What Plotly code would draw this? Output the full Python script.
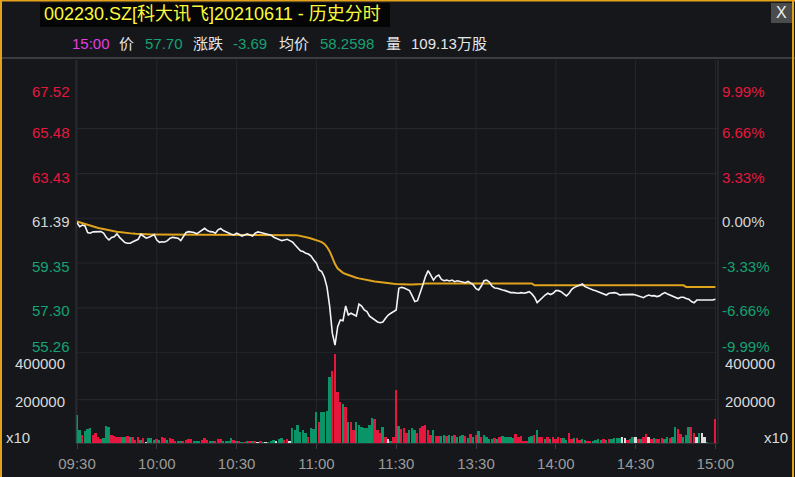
import plotly.graph_objects as go

# ---------------- data ----------------
time_tick_pos = [0, 30, 60, 90, 120, 150, 180, 210, 240]
time_tick_labels = ["09:30", "10:00", "10:30", "11:00", "11:30", "13:30", "14:00", "14:30", "15:00"]

pre_close = 61.39
price_ticks = [67.52, 65.48, 63.43, 61.39, 59.35, 57.30, 55.26]
pct_labels = ["9.99%", "6.66%", "3.33%", "0.00%", "-3.33%", "-6.66%", "-9.99%"]
vol_tick_vals = [400, 200, 0]          # thousands
vol_tick_labels = ["400000", "200000", "x10"]

price = [
    61.19, 61.01, 61.08, 61.04, 60.74, 60.71, 60.77, 60.78, 60.77, 60.78,
    60.71, 60.52, 60.40, 60.52, 60.55, 60.68, 60.52, 60.40, 60.28, 60.25,
    60.25, 60.32, 60.37, 60.43, 60.66, 60.55, 60.48, 60.52, 60.58, 60.65,
    60.40, 60.29, 60.32, 60.31, 60.37, 60.48, 60.52, 60.51, 60.48, 60.37,
    60.55, 60.74, 60.78, 60.77, 60.74, 60.68, 60.77, 60.86, 60.93, 60.83,
    60.78, 60.77, 60.71, 60.86, 60.93, 60.83, 60.77, 60.74, 60.66, 60.63,
    60.71, 60.65, 60.58, 60.63, 60.68, 60.63, 60.58, 60.71, 60.77, 60.74,
    60.71, 60.68, 60.65, 60.62, 60.52, 60.48, 60.43, 60.37, 60.40, 60.43,
    60.37, 60.31, 60.17, 60.02, 59.91, 59.87, 59.79, 59.76, 59.67, 59.49,
    59.34, 59.03, 58.96, 58.70, 58.24, 57.36, 56.14, 55.61, 56.45, 56.75,
    56.72, 57.39, 56.98, 57.06, 56.98, 56.93, 57.48, 57.39, 57.21, 57.13,
    56.93, 56.83, 56.75, 56.66, 56.63, 56.66, 56.83, 56.98, 57.06, 57.13,
    57.21, 58.20, 58.24, 58.21, 58.15, 58.09, 57.85, 57.59, 57.63, 58.04,
    58.35, 58.73, 59.00, 58.80, 58.57, 58.73, 58.80, 58.60, 58.54, 58.57,
    58.53, 58.57, 58.50, 58.54, 58.51, 58.50, 58.45, 58.51, 58.42, 58.35,
    58.18, 58.12, 58.30, 58.54, 58.57, 58.48, 58.30, 58.21, 58.20, 58.15,
    58.12, 58.09, 58.04, 58.00, 58.00, 57.97, 57.97, 58.00, 57.97, 58.00,
    58.04, 57.94, 57.79, 57.54, 57.66, 57.79, 57.89, 57.97, 57.91, 57.97,
    58.09, 58.09, 58.04, 57.94, 57.85, 57.97, 58.15, 58.24, 58.30, 58.36,
    58.39, 58.27, 58.21, 58.15, 58.12, 58.09, 58.04, 58.00, 57.94, 57.89,
    57.97, 58.00, 58.00, 57.97, 57.89, 57.91, 57.92, 57.92, 57.91, 57.92,
    57.89, 57.85, 57.82, 57.77, 57.85, 57.89, 57.85, 57.86, 57.82, 57.85,
    57.94, 58.00, 57.94, 57.89, 57.82, 57.79, 57.73, 57.79, 57.79, 57.73,
    57.70, 57.59, 57.54, 57.66, 57.66, 57.63, 57.63, 57.66, 57.66, 57.66,
    57.70,
]

avg_price = [
    61.24, 61.20, 61.16, 61.12, 61.08, 61.04, 61.01, 60.98, 60.95, 60.92,
    60.89, 60.86, 60.84, 60.82, 60.80, 60.78, 60.76, 60.74, 60.72, 60.71,
    60.70, 60.69, 60.68, 60.67, 60.67, 60.66, 60.66, 60.66, 60.65, 60.65,
    60.65, 60.65, 60.65, 60.64, 60.64, 60.64, 60.64, 60.64, 60.64, 60.64,
    60.64, 60.64, 60.64, 60.64, 60.64, 60.64, 60.64, 60.64, 60.64, 60.64,
    60.64, 60.64, 60.64, 60.64, 60.64, 60.64, 60.64, 60.64, 60.64, 60.64,
    60.64, 60.64, 60.64, 60.64, 60.64, 60.64, 60.64, 60.64, 60.64, 60.64,
    60.64, 60.64, 60.64, 60.64, 60.64, 60.64, 60.64, 60.64, 60.64, 60.64,
    60.64, 60.63, 60.62, 60.61, 60.59, 60.57, 60.53, 60.50, 60.47, 60.44,
    60.40, 60.35, 60.30, 60.22, 60.08, 59.88, 59.60, 59.30, 59.10, 58.98,
    58.90, 58.85, 58.80, 58.76, 58.72, 58.68, 58.65, 58.62, 58.59, 58.57,
    58.55, 58.53, 58.51, 58.49, 58.47, 58.45, 58.43, 58.42, 58.41, 58.40,
    58.39, 58.38, 58.38, 58.38, 58.37, 58.37, 58.37, 58.37, 58.37, 58.38,
    58.39, 58.42, 58.42, 58.42, 58.42, 58.42, 58.42, 58.42, 58.42, 58.42,
    58.42, 58.42, 58.42, 58.42, 58.42, 58.42, 58.42, 58.42, 58.42, 58.42,
    58.42, 58.42, 58.42, 58.42, 58.42, 58.42, 58.42, 58.42, 58.42, 58.42,
    58.42, 58.42, 58.42, 58.42, 58.42, 58.42, 58.42, 58.42, 58.42, 58.42,
    58.42, 58.42, 58.33, 58.33, 58.33, 58.33, 58.33, 58.33, 58.33, 58.33,
    58.33, 58.33, 58.33, 58.33, 58.33, 58.33, 58.33, 58.33, 58.33, 58.33,
    58.33, 58.33, 58.33, 58.33, 58.33, 58.33, 58.33, 58.33, 58.33, 58.33,
    58.33, 58.33, 58.33, 58.33, 58.33, 58.33, 58.33, 58.33, 58.33, 58.33,
    58.33, 58.33, 58.33, 58.33, 58.33, 58.33, 58.33, 58.33, 58.33, 58.33,
    58.33, 58.33, 58.33, 58.33, 58.33, 58.33, 58.33, 58.33, 58.33, 58.26,
    58.26, 58.26, 58.26, 58.26, 58.26, 58.26, 58.26, 58.26, 58.26, 58.26,
    58.26,
]

# volume per minute, thousands of shares (x10 units as shown)
volume_k = [
    131, 62, 38, 58, 66, 72, 38, 46, 28, 22,
    23, 80, 74, 37, 34, 31, 28, 28, 31, 34,
    28, 28, 15, 28, 15, 23, 8, 23, 23, 15,
    18, 15, 28, 23, 15, 23, 22, 12, 9, 12,
    12, 15, 18, 18, 12, 12, 12, 15, 23, 15,
    9, 12, 9, 18, 18, 12, 12, 12, 23, 15,
    12, 11, 8, 8, 12, 12, 11, 12, 8, 9,
    6, 6, 8, 9, 15, 12, 18, 23, 15, 22,
    12, 69, 62, 85, 54, 62, 46, 28, 69, 66,
    146, 100, 146, 146, 150, 308, 336, 413, 239, 192,
    180, 170, 100, 100, 62, 100, 85, 77, 70, 70,
    85, 115, 110, 62, 46, 77, 31, 20, 10, 30,
    246, 80, 65, 69, 46, 62, 72, 62, 46, 72,
    82, 85, 62, 38, 62, 34, 34, 34, 38, 34,
    38, 34, 37, 31, 34, 37, 34, 23, 42, 28,
    37, 58, 31, 38, 28, 18, 18, 25, 22, 28,
    34, 31, 31, 28, 23, 43, 28, 34, 12, 12,
    28, 34, 37, 62, 31, 28, 22, 28, 22, 28,
    22, 28, 23, 23, 15, 49, 18, 23, 23, 15,
    22, 15, 12, 12, 12, 15, 18, 15, 18, 15,
    18, 18, 23, 25, 25, 28, 25, 15, 18, 31,
    28, 22, 18, 28, 42, 28, 22, 23, 22, 22,
    25, 22, 28, 23, 31, 74, 65, 43, 31, 38,
    74, 77, 49, 28, 49, 46, 28, 8, 0, 0,
    111,
]

# bar direction: r = up, g = down, w = unchanged
volume_dir = (
    "ggrgggrrrr" "gggrrrrggr" "grrrgrwggg" "rgrrgrrrgg" "rrrrgggrrr"
    "ggrrrggggr" "grgrgrgrwr" "gwgggwggrr" "wggggggrgg" "grggggrrrr"
    "grgrrggggg" "ggrrrgrwgr" "rgrrrgggrr" "rrrrgrrggr" "ggrgggrgrg"
    "rgrggggrgr" "gggggrrrrr" "ggrgrrgrgr" "rrrggrrgrr" "ggrrggggrg"
    "rggggwwrgg" "wrgrrwrgrr" "rggrggrrgg" "grrwgwwggg"
    "r"
)

# ---------------- style ----------------
BG = "#15171b"
GRID = "#25272c"
FRAME = "#2e3035"
RED = "#e5173f"
GREEN = "#0b9468"
TGREEN = "#16a272"
WHITE = "#e6e6e6"
GREY = "#9c9c9c"
ORANGE = "#e0a31c"
FONT = "Liberation Sans, Arial, Noto Sans CJK SC, sans-serif"
CJK = "Liberation Sans, Noto Sans CJK SC, sans-serif"

W, H = 795, 477
ML, MR, MT, MB = 76, 77, 60, 34
PW = W - ML - MR
PH = H - MT - MB
price_top = 352.7                       # pixel row of the 55.26 line
dom_split = (H - MB - price_top) / PH
px_per_yuan = 21.93
price_range = [55.26, 55.26 + (price_top - MT) / px_per_yuan]
vol_range = [0, (H - MB - price_top) * 4.619]


def px(x):
    return (x - ML) / PW


def py(y):
    return (H - MB - y) / PH


col_map = {"r": RED, "g": GREEN, "w": "#dcdcdc"}
minutes = list(range(len(price)))

fig = go.Figure()
fig.add_trace(go.Bar(x=minutes, y=volume_k, marker_color=[col_map[c] for c in volume_dir],
                     marker_line_width=0, width=0.72, yaxis="y2", xaxis="x", hoverinfo="skip"))
fig.add_trace(go.Scatter(x=minutes, y=avg_price, mode="lines", line=dict(color=ORANGE, width=2),
                         yaxis="y", xaxis="x", hoverinfo="skip"))
fig.add_trace(go.Scatter(x=minutes, y=price, mode="lines", line=dict(color="#f4f4f4", width=1.6),
                         yaxis="y", xaxis="x", hoverinfo="skip"))

shapes = []
for t in time_tick_pos:
    shapes.append(dict(type="line", xref="x", yref="paper", x0=t, x1=t, y0=0, y1=1,
                       line=dict(color=GRID, width=1), layer="below"))
for v in price_ticks[1:]:
    shapes.append(dict(type="line", xref="paper", yref="y", x0=0, x1=1, y0=v, y1=v,
                       line=dict(color=GRID, width=1.2), layer="below"))
for v in vol_tick_vals[1:]:
    shapes.append(dict(type="line", xref="paper", yref="y2", x0=0, x1=1, y0=v, y1=v,
                       line=dict(color=GRID, width=1.2), layer="below"))
shapes.append(dict(type="line", xref="paper", yref="paper", x0=0, x1=0, y0=0, y1=1,
                   line=dict(color=FRAME, width=1.2)))
shapes.append(dict(type="line", xref="paper", yref="paper", x0=1, x1=1, y0=0, y1=1,
                   line=dict(color=FRAME, width=1.2)))
shapes.append(dict(type="line", xref="paper", yref="paper", x0=px(0), x1=px(W), y0=py(58), y1=py(58),
                   line=dict(color="#3a3c41", width=2)))
shapes.append(dict(type="line", xref="paper", yref="paper", x0=px(1), x1=px(1), y0=py(0), y1=py(H),
                   line=dict(color="#e3a21a", width=2)))
shapes.append(dict(type="line", xref="paper", yref="paper", x0=px(0), x1=px(W), y0=py(0.7), y1=py(0.7),
                   line=dict(color="#e3a21a", width=1.5)))
shapes.append(dict(type="line", xref="paper", yref="paper", x0=px(793), x1=px(793), y0=py(0), y1=py(H),
                   line=dict(color="#e3a21a", width=2)))
shapes.append(dict(type="rect", xref="paper", yref="paper", x0=px(40), x1=px(390), y0=py(27), y1=py(3),
                   fillcolor="#050505", line=dict(width=0)))
shapes.append(dict(type="rect", xref="paper", yref="paper", x0=px(771), x1=px(792), y0=py(23), y1=py(3),
                   fillcolor="#4a4b4d", line=dict(width=0)))

ann = []
ann.append(dict(text="002230.SZ[科大讯飞]20210611 - 历史分时", x=px(42), y=py(14.5), xref="paper", yref="paper",
                xanchor="left", yanchor="middle", showarrow=False,
                font=dict(family=CJK, size=18, color="#fbfb3c")))
ann.append(dict(text="X", x=px(781.5), y=py(13), xref="paper", yref="paper", xanchor="center", yanchor="middle",
                showarrow=False, font=dict(family=FONT, size=16, color="#f0f0f0")))

info = [("15:00", 72, "#e23ee2"), ("价", 119, WHITE), ("57.70", 145, TGREEN), ("涨跌", 193, WHITE),
        ("-3.69", 233, TGREEN), ("均价", 279, WHITE), ("58.2598", 320, TGREEN), ("量", 386, WHITE),
        ("109.13万股", 411, WHITE)]
for txt, x0, c in info:
    ann.append(dict(text=txt, x=px(x0 - 2), y=py(43.5), xref="paper", yref="paper", xanchor="left",
                    yanchor="middle", showarrow=False, font=dict(family=CJK, size=15, color=c)))

shifts = [-8, -3.5, -3.5, -3.5, -3.5, -3, 6]
for v, pl, s in zip(price_ticks, pct_labels, shifts):
    c = RED if v > pre_close + 1e-9 else (TGREEN if v < pre_close - 1e-9 else "#d4d4d4")
    ann.append(dict(text=f"{v:.2f}", x=px(71.5), y=v, xref="paper", yref="y", xanchor="right",
                    yanchor="middle", yshift=s, showarrow=False, font=dict(family=FONT, size=15, color=c)))
    ann.append(dict(text=pl, x=px(720), y=v, xref="paper", yref="y", xanchor="left",
                    yanchor="middle", yshift=s, showarrow=False, font=dict(family=FONT, size=15, color=c)))

vshift = [-7.5, -1.5, 5.5]
for v, lab, s in zip(vol_tick_vals, vol_tick_labels, vshift):
    lx = 4 if lab == "x10" else 13
    ann.append(dict(text=lab, x=px(lx), y=v, xref="paper", yref="y2", xanchor="left", yanchor="middle",
                    yshift=s, showarrow=False, font=dict(family=FONT, size=15, color="#dadada")))
    if lab == "x10":
        ann.append(dict(text=lab, x=px(790), y=v, xref="paper", yref="y2", xanchor="right", yanchor="middle",
                        yshift=s, showarrow=False, font=dict(family=FONT, size=15, color="#dadada")))
    else:
        ann.append(dict(text=lab, x=px(723), y=v, xref="paper", yref="y2", xanchor="left", yanchor="middle",
                        yshift=s, showarrow=False, font=dict(family=FONT, size=15, color="#dadada")))

fig.update_layout(
    width=W, height=H,
    margin=dict(l=ML, r=MR, t=MT, b=MB, pad=0, autoexpand=False),
    paper_bgcolor=BG, plot_bgcolor=BG,
    showlegend=False, bargap=0,
    font=dict(family=FONT),
    xaxis=dict(range=[-0.38, 240.98], tickmode="array", tickvals=time_tick_pos, ticktext=time_tick_labels,
               showgrid=False, zeroline=False, showline=True, linecolor=FRAME, linewidth=1,
               ticks="outside", ticklen=5, tickcolor="#3a3c41", tickwidth=1, automargin=False,
               tickfont=dict(family=FONT, size=15, color=GREY), anchor="y2", ticklabelstandoff=2),
    yaxis=dict(domain=[dom_split, 1], range=price_range, showticklabels=False, showgrid=False,
               zeroline=False, showline=False, fixedrange=True, automargin=False),
    yaxis2=dict(domain=[0, dom_split], range=vol_range, showticklabels=False, showgrid=False,
                zeroline=False, showline=False, fixedrange=True, automargin=False),
    shapes=shapes, annotations=ann,
)

fig.write_html("out.html", config={"displayModeBar": False},
               post_script="document.body.style.margin='0';document.body.style.padding='0';"
                           "document.body.style.background='#15171b';")
